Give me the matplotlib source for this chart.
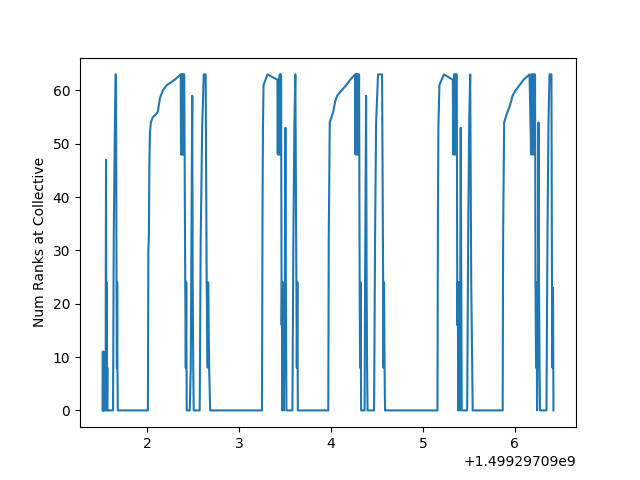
import numpy as np
import matplotlib
matplotlib.use("Agg")
import matplotlib.pyplot as plt

# time stamps are seconds after t0
t0 = 1499297090

# burst 0
t_b0 = [1.518, 1.519, 1.525, 1.526, 1.530, 1.531, 1.533, 1.552, 1.553, 1.556,
        1.558, 1.561, 1.563, 1.565, 1.570, 1.572, 1.632, 1.640, 1.648, 1.653,
        1.660, 1.664, 1.667, 1.670, 1.674, 1.677, 1.680, 1.684]
n_b0 = [0, 11, 11, 0, 0, 11, 0, 0, 24, 47,
        24, 8, 24, 0, 8, 0, 0, 33, 47, 55,
        63, 63, 47, 24, 8, 24, 8, 0]

# burst 1 (slow ramp)
t_b1 = [2.011, 2.016, 2.022, 2.027, 2.033, 2.043, 2.065, 2.098, 2.119, 2.141,
        2.173, 2.217, 2.260, 2.303, 2.336, 2.368, 2.371, 2.375, 2.379, 2.383,
        2.388, 2.392, 2.396, 2.401, 2.406, 2.417, 2.423, 2.428, 2.433, 2.466,
        2.477, 2.482, 2.493, 2.498, 2.504, 2.509, 2.574, 2.585, 2.601, 2.618,
        2.639, 2.650, 2.661, 2.666, 2.677, 2.688]
n_b1 = [0, 30, 33, 46, 52, 54, 55, 55.5, 56, 58.5,
        60, 61, 61.5, 62, 62.5, 63, 48, 63, 48, 63,
        48, 63, 48, 63, 63, 24, 8, 24, 0, 0,
        8, 24, 59, 24, 8, 0, 0, 32, 53, 63,
        63, 24, 8, 24, 8, 0]

# burst 2 (sharp jump)
t_b2 = [3.251, 3.257, 3.262, 3.268, 3.311, 3.419, 3.423, 3.427, 3.431, 3.435,
        3.440, 3.444, 3.448, 3.453, 3.459, 3.465, 3.469, 3.473, 3.478, 3.484,
        3.489, 3.500, 3.506, 3.511, 3.517, 3.582, 3.593, 3.604, 3.614, 3.625,
        3.630, 3.636, 3.641]
n_b2 = [0, 37, 53, 61, 63, 62, 48, 62, 48, 62,
        48, 63, 48, 63, 63, 16, 24, 0, 24, 8,
        0, 24, 53, 24, 0, 0, 33, 54, 63, 24,
        8, 24, 0]

# burst 3 (slow ramp)
t_b3 = [3.972, 3.977, 3.988, 4.026, 4.048, 4.069, 4.102, 4.167, 4.210, 4.264,
        4.268, 4.272, 4.276, 4.280, 4.285, 4.289, 4.293, 4.299, 4.307, 4.313,
        4.318, 4.324, 4.329, 4.367, 4.372, 4.383, 4.389, 4.394, 4.399, 4.470,
        4.481, 4.492, 4.513, 4.557, 4.568, 4.573, 4.578, 4.584, 4.589]
n_b3 = [0, 32, 54, 56, 58, 59, 59.7, 61, 62, 63,
        48, 63, 48, 63, 48, 63, 48, 63, 63, 24,
        8, 24, 0, 0, 24, 59, 24, 8, 0, 0,
        33, 54, 63, 63, 24, 8, 24, 8, 0]

# burst 4 (sharp jump)
t_b4 = [5.159, 5.164, 5.169, 5.180, 5.229, 5.326, 5.330, 5.334, 5.338, 5.342,
        5.347, 5.351, 5.355, 5.361, 5.369, 5.375, 5.380, 5.385, 5.391, 5.396,
        5.401, 5.407, 5.412, 5.418, 5.423, 5.482, 5.493, 5.504, 5.515, 5.526,
        5.532, 5.537, 5.542]
n_b4 = [0, 37, 53, 61, 63, 62, 48, 62, 48, 63,
        48, 63, 48, 63, 63, 16, 24, 0, 24, 8,
        0, 24, 53, 24, 0, 0, 33, 54, 63, 24,
        16, 8, 0]

# burst 5 (slow ramp)
t_b5 = [5.868, 5.873, 5.884, 5.911, 5.944, 5.976, 6.009, 6.052, 6.095, 6.160,
        6.177, 6.182, 6.187, 6.193, 6.198, 6.204, 6.209, 6.215, 6.220, 6.225,
        6.231, 6.236, 6.242, 6.253, 6.258, 6.263, 6.269, 6.274, 6.344, 6.355,
        6.366, 6.377, 6.398, 6.404, 6.409, 6.415, 6.420]
n_b5 = [0, 33, 54, 55.5, 57, 59, 60, 61, 62, 63,
        48, 63, 48, 63, 48, 63, 48, 63, 63, 24,
        8, 24, 0, 24, 54, 24, 8, 0, 0, 33,
        54, 63, 63, 23, 8, 23, 0]

times = t0 + np.array(t_b0 + t_b1 + t_b2 + t_b3 + t_b4 + t_b5)
ranks = np.array(n_b0 + n_b1 + n_b2 + n_b3 + n_b4 + n_b5)

plt.plot(times, ranks)
plt.ylabel('Num Ranks at Collective')
plt.savefig('out.png')
